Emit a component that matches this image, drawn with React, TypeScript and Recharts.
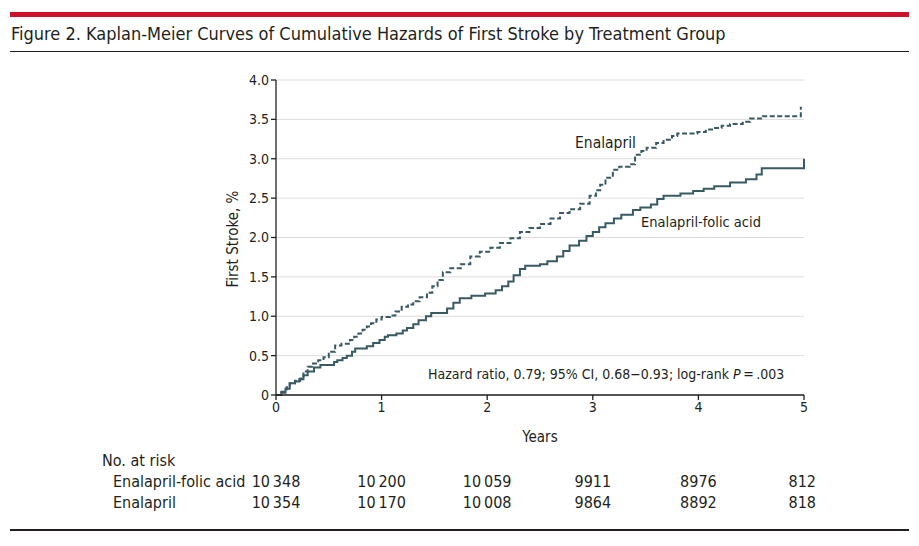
import React from 'react'
import { LineChart, Line, XAxis, YAxis, CartesianGrid } from 'recharts'

// Kaplan-Meier step points: [years, cumulative hazard %]
const enalaprilSteps: [number, number][] = [
  [0, 0], [0.05, 0.04], [0.1, 0.1], [0.13, 0.15], [0.18, 0.18], [0.23, 0.21],
  [0.26, 0.3], [0.3, 0.36], [0.34, 0.4], [0.4, 0.44], [0.45, 0.48], [0.5, 0.55],
  [0.56, 0.63], [0.62, 0.65], [0.7, 0.7], [0.74, 0.74], [0.78, 0.78], [0.82, 0.83],
  [0.86, 0.87], [0.9, 0.91], [0.95, 0.96], [1.0, 0.99], [1.08, 1.01], [1.13, 1.06],
  [1.19, 1.12], [1.25, 1.15], [1.3, 1.19], [1.36, 1.24], [1.43, 1.3], [1.48, 1.38],
  [1.53, 1.46], [1.58, 1.56], [1.65, 1.61], [1.75, 1.66], [1.84, 1.76], [1.93, 1.82],
  [2.03, 1.87], [2.12, 1.93], [2.22, 1.99], [2.31, 2.07], [2.4, 2.12], [2.5, 2.17],
  [2.6, 2.24], [2.69, 2.31], [2.78, 2.36], [2.88, 2.43], [2.97, 2.53], [3.03, 2.6],
  [3.07, 2.67], [3.12, 2.76], [3.19, 2.86], [3.25, 2.9], [3.35, 2.93], [3.4, 3.05],
  [3.46, 3.1], [3.51, 3.14], [3.6, 3.2], [3.67, 3.24], [3.75, 3.29], [3.8, 3.32],
  [3.99, 3.34], [4.07, 3.37], [4.14, 3.39], [4.22, 3.42], [4.3, 3.44], [4.42, 3.47],
  [4.49, 3.51], [4.61, 3.54], [4.97, 3.66],
]

const folicSteps: [number, number][] = [
  [0, 0], [0.05, 0.03], [0.09, 0.08], [0.13, 0.15], [0.18, 0.17], [0.22, 0.2],
  [0.26, 0.25], [0.3, 0.3], [0.36, 0.35], [0.42, 0.38], [0.55, 0.42], [0.58, 0.44],
  [0.63, 0.47], [0.67, 0.5], [0.72, 0.55], [0.75, 0.59], [0.86, 0.62], [0.92, 0.66],
  [0.98, 0.7], [1.03, 0.74], [1.06, 0.76], [1.14, 0.78], [1.2, 0.82], [1.24, 0.85],
  [1.3, 0.9], [1.35, 0.95], [1.42, 1.0], [1.47, 1.04], [1.62, 1.1], [1.68, 1.17],
  [1.74, 1.23], [1.85, 1.26], [1.98, 1.29], [2.08, 1.33], [2.14, 1.38], [2.2, 1.44],
  [2.25, 1.52], [2.31, 1.6], [2.36, 1.64], [2.5, 1.66], [2.57, 1.7], [2.66, 1.76],
  [2.72, 1.83], [2.78, 1.9], [2.87, 1.96], [2.94, 2.02], [3.0, 2.07], [3.06, 2.13],
  [3.12, 2.18], [3.2, 2.24], [3.27, 2.29], [3.38, 2.35], [3.45, 2.38], [3.55, 2.42],
  [3.61, 2.49], [3.67, 2.53], [3.83, 2.56], [3.95, 2.59], [4.05, 2.62], [4.15, 2.65],
  [4.3, 2.7], [4.45, 2.74], [4.55, 2.8], [4.6, 2.88], [5.0, 3.0],
]

const yearTicks = [0, 1, 2, 3, 4, 5]
const hazardTicks = [0, 0.5, 1, 1.5, 2, 2.5, 3, 3.5, 4]
const atRiskFolic = ['10\u2009348', '10\u2009200', '10\u2009059', '9911', '8976', '812']
const atRiskEnalapril = ['10\u2009354', '10\u2009170', '10\u2009008', '9864', '8892', '818']

const FONT = "'Liberation Sans Narrow', 'DejaVu Sans Condensed', 'Roboto', sans-serif"
const INK = '#231f20'
const CURVE = '#385a64'

// plot frame (pixels)
const PLOT_LEFT = 276
const PLOT_RIGHT = 804
const PLOT_TOP = 80
const PLOT_BOTTOM = 395
const Y_AXIS_W = 60
const X_AXIS_H = 30

const toRows = (steps: [number, number][]) => steps.map(([t, v]) => ({ t, v }))

const xPos = (year: number) => PLOT_LEFT + ((PLOT_RIGHT - PLOT_LEFT) * year) / 5

const abs = (left: number, top: number, extra: React.CSSProperties = {}): React.CSSProperties => ({
  position: 'absolute',
  left,
  top,
  whiteSpace: 'nowrap',
  lineHeight: 1,
  ...extra,
})

export default function App() {
  return (
    <div
      style={{
        position: 'absolute',
        left: 0,
        top: 0,
        width: 919,
        height: 546,
        background: '#fff',
        fontFamily: FONT,
        color: INK,
        overflow: 'hidden',
      }}
    >
      <div style={{ position: 'absolute', left: 10, top: 12, width: 899, height: 5, background: '#d0112b' }} />
      <div style={abs(11, 25, { fontSize: 18 })}>
        Figure 2. Kaplan-Meier Curves of Cumulative Hazards of First Stroke by Treatment Group
      </div>
      <div style={{ position: 'absolute', left: 10, top: 51, width: 899, height: 1, background: INK }} />

      <div style={{ position: 'absolute', left: 0, top: 0 }}>
        <LineChart
          width={919}
          height={546}
          margin={{
            top: PLOT_TOP,
            right: 919 - PLOT_RIGHT,
            left: PLOT_LEFT - Y_AXIS_W,
            bottom: 546 - PLOT_BOTTOM - X_AXIS_H,
          }}
        >
          <CartesianGrid vertical={false} stroke="#dcdcdc" strokeWidth={1} />
          <XAxis
            dataKey="t"
            type="number"
            domain={[0, 5]}
            ticks={yearTicks}
            allowDuplicatedCategory={false}
            height={X_AXIS_H}
            stroke={INK}
            strokeWidth={1.3}
            tickSize={5}
            tick={{ fill: INK, fontSize: 14, fontFamily: FONT }}
          />
          <YAxis
            dataKey="v"
            type="number"
            domain={[0, 4]}
            ticks={hazardTicks}
            width={Y_AXIS_W}
            stroke={INK}
            strokeWidth={1.3}
            tickSize={5}
            tickFormatter={(v: number) => (v === 0 ? '0' : v.toFixed(1))}
            tick={{ fill: INK, fontSize: 14, fontFamily: FONT }}
          />
          <Line
            data={toRows(folicSteps)}
            dataKey="v"
            type="stepAfter"
            stroke={CURVE}
            strokeWidth={2}
            dot={false}
            isAnimationActive={false}
          />
          <Line
            data={toRows(enalaprilSteps)}
            dataKey="v"
            type="stepAfter"
            stroke={CURVE}
            strokeWidth={2}
            strokeDasharray="5 2.5"
            dot={false}
            isAnimationActive={false}
          />
        </LineChart>
      </div>

      <div style={abs(575, 136, { fontSize: 15.5 })}>Enalapril</div>
      <div style={abs(641, 215, { fontSize: 14.5 })}>Enalapril-folic acid</div>
      <div style={abs(428, 367, { fontSize: 14 })}>
        Hazard ratio, 0.79; 95% CI, 0.68−0.93; log-rank <i>P</i>
        {'\u2009'}={'\u2009'}.003
      </div>
      <div style={abs(540, 430, { fontSize: 15, transform: 'translateX(-50%)' })}>Years</div>
      <div
        style={abs(233, 239, {
          fontSize: 15,
          transform: 'translate(-50%, -50%) rotate(-90deg)',
        })}
      >
        First Stroke, %
      </div>

      <div style={abs(102, 453, { fontSize: 16 })}>No. at risk</div>
      <div style={abs(113, 474, { fontSize: 16 })}>Enalapril-folic acid</div>
      <div style={abs(113, 495, { fontSize: 16 })}>Enalapril</div>
      {atRiskFolic.map((n, i) => (
        <div
          key={'f' + i}
          style={abs(xPos(yearTicks[i]), 474, {
            fontSize: 16,
            transform: i === 5 ? 'translateX(-100%)' : 'translateX(-50%)',
            marginLeft: i === 5 ? 12 : 0,
          })}
        >
          {n}
        </div>
      ))}
      {atRiskEnalapril.map((n, i) => (
        <div
          key={'e' + i}
          style={abs(xPos(yearTicks[i]), 495, {
            fontSize: 16,
            transform: i === 5 ? 'translateX(-100%)' : 'translateX(-50%)',
            marginLeft: i === 5 ? 12 : 0,
          })}
        >
          {n}
        </div>
      ))}
      <div style={{ position: 'absolute', left: 10, top: 529, width: 899, height: 1.5, background: INK }} />
    </div>
  )
}
